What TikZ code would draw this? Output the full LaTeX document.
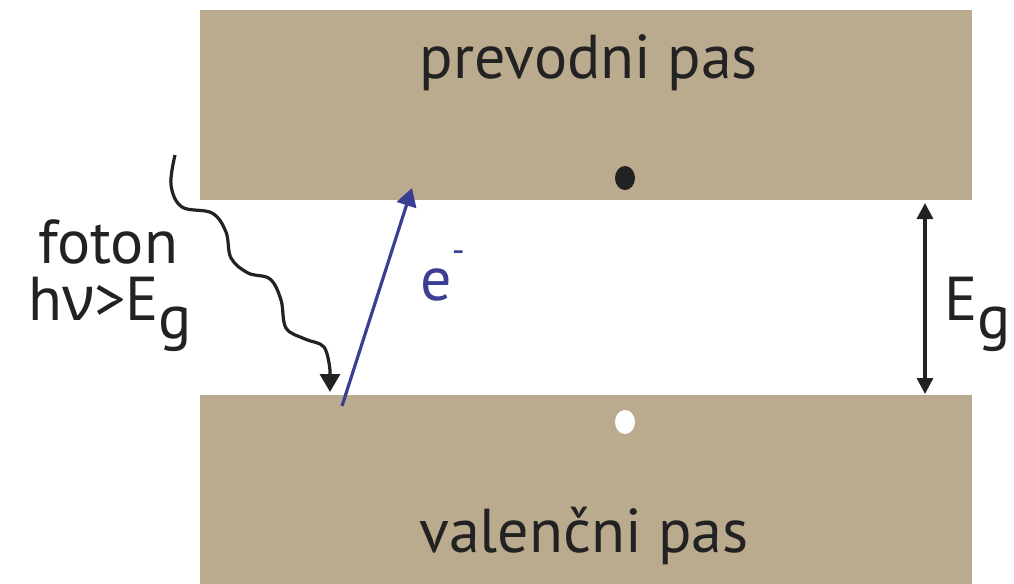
\documentclass[tikz,border=0pt]{standalone}
\usepackage{fontspec}
\setmainfont{PT Sans}
\newfontfamily\grfont{Noto Sans}
\usetikzlibrary{arrows.meta}
\definecolor{band}{HTML}{BAAB8F}
\definecolor{eblue}{HTML}{3B3F94}
\definecolor{ink}{HTML}{222222}
\tikzset{
  bandbox/.style={fill=band, draw=none, minimum width=386pt, minimum height=#1, inner sep=0pt},
  lbl/.style={font=\fontsize{31}{36}\selectfont, text=ink, inner sep=0pt},
  tip/.style={-{Triangle[length=9pt,width=10pt]}},
  dtip/.style={{Triangle[length=8pt,width=8pt]}-{Triangle[length=8pt,width=8pt]}},
}
\begin{document}
\begin{tikzpicture}[x=0.5pt,y=-0.5pt]
\useasboundingbox (0,0) rectangle (1014,584);
\node[bandbox=95pt] (cb) at (586,105) {};
\node[bandbox=95pt] (vb) at (586,490) {};
\node[lbl, anchor=base] (ct) at (589,78) {prevodni pas};
\node[lbl, anchor=base] (vt) at (584,552) {valenčni pas};
\fill[ink] (625,178) ellipse (10 and 12);
\fill[white] (625,422) ellipse (10 and 12);
% band gap arrow
\coordinate (gt) at (925,203);
\coordinate (gb) at (925,394);
\draw[ink, line width=1.6pt, dtip] (gt) -- (gb);
\node[lbl, anchor=base west] (eg) at (944,320) {E\raisebox{-0.3em}{g}};
% electron
\coordinate (e0) at (342,406);
\coordinate (e1) at (412,188);
\draw[eblue, line width=1.6pt, tip] (e0) -- (e1);
\node[lbl, text=eblue, anchor=base west] (el) at (420,300) {e\raisebox{0.6em}{\fontsize{18}{20}\selectfont -}};
% photon
\coordinate (p0) at (175,155);
\coordinate (p1) at (330,392);
\draw[ink, line width=1.6pt, tip] plot[smooth, tension=0.6] coordinates {(p0) (171,185) (182,207) (212,213) (226,232) (231,258) (248,273) (270,279) (281,300) (286,328) (305,339) (324,347) (330,370)} -- (p1);
\node[lbl, anchor=base] (ft) at (108,263) {foton};
\node[lbl, anchor=base] (fe) at (110,320) {h{\grfont ν}>E\raisebox{-0.3em}{g}};
\end{tikzpicture}
\end{document}
